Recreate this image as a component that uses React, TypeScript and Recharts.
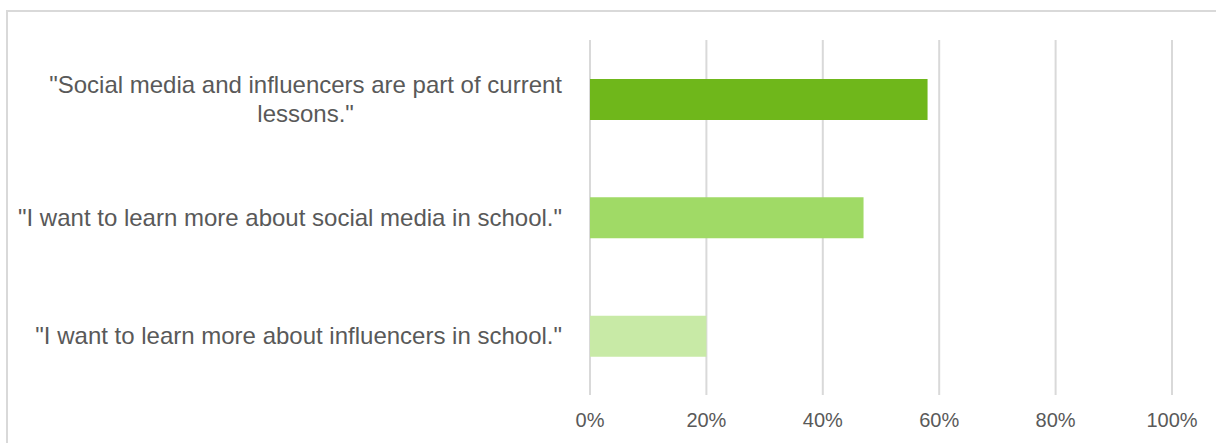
import { Bar, BarChart, CartesianGrid, Cell, XAxis, YAxis } from "recharts"

const categories = [
  '"Social media and influencers are part of current lessons."',
  '"I want to learn more about social media in school."',
  '"I want to learn more about influencers in school."',
]
const shares = [0.58, 0.47, 0.2]
const barColors = ["#6fb71b", "#a0da66", "#c8eaa6"]
const xTicks = [0, 0.2, 0.4, 0.6, 0.8, 1]

const data = categories.map((label, i) => ({ label, value: shares[i] }))

const LABEL_FONT = "24px 'Liberation Sans', Arial, sans-serif"
const TEXT_COLOR = "#595959"
const GRID_COLOR = "#d9d9d9"

let ctx: CanvasRenderingContext2D | null = null
function measure(text: string) {
  if (!ctx) ctx = document.createElement("canvas").getContext("2d")
  if (!ctx) return text.length * 11
  ctx.font = LABEL_FONT
  return ctx.measureText(text).width
}

function wrap(text: string, maxWidth: number) {
  const words = text.split(" ")
  const lines: string[] = []
  let cur = ""
  for (const w of words) {
    const next = cur ? cur + " " + w : w
    if (cur && measure(next) > maxWidth) {
      lines.push(cur)
      cur = w
    } else {
      cur = next
    }
  }
  if (cur) lines.push(cur)
  return lines
}

function CategoryTick(props: any) {
  const { x, y, payload } = props
  const lines = wrap(String(payload.value), 560)
  const right = x - 28
  const lineHeight = 29
  const startY = y - ((lines.length - 1) * lineHeight) / 2
  if (lines.length === 1) {
    return (
      <text x={right} y={y} dy={8} textAnchor="end" fill={TEXT_COLOR}
        style={{ font: LABEL_FONT }}>
        {lines[0]}
      </text>
    )
  }
  const blockWidth = Math.max(...lines.map(measure))
  const cx = right - blockWidth / 2
  return (
    <text textAnchor="middle" fill={TEXT_COLOR} style={{ font: LABEL_FONT }}>
      {lines.map((l, i) => (
        <tspan key={i} x={cx} y={startY + i * lineHeight} dy={8}>
          {l}
        </tspan>
      ))}
    </text>
  )
}

export default function App() {
  return (
    <div style={{ position: "absolute", left: 0, top: 0, width: 1216, height: 443, overflow: "hidden", background: "#fff" }}>
      <div style={{ position: "absolute", left: 6, top: 10, width: 1300, height: 500, border: `2px solid ${GRID_COLOR}` }} />
      <div style={{ position: "absolute", left: 0, top: 0 }}>
        <BarChart
          width={1216}
          height={443}
          data={data}
          layout="vertical"
          margin={{ top: 40, right: 44, bottom: 0, left: 0 }}
        >
          <CartesianGrid horizontal={false} stroke={GRID_COLOR} strokeWidth={2} />
          <XAxis
            type="number"
            domain={[0, 1]}
            ticks={xTicks}
            tickFormatter={(v) => `${Math.round(v * 100)}%`}
            axisLine={false}
            tickLine={false}
            tickMargin={12}
            height={48}
            interval={0}
            tick={{ fill: TEXT_COLOR, fontSize: 20, fontFamily: "'Liberation Sans', Arial, sans-serif" }}
          />
          <YAxis
            type="category"
            dataKey="label"
            width={590}
            axisLine={false}
            tickLine={false}
            tickSize={0}
            tickMargin={0}
            interval={0}
            tick={<CategoryTick />}
          />
          <Bar dataKey="value" barSize={41} isAnimationActive={false}>
            {data.map((_, i) => (
              <Cell key={i} fill={barColors[i]} />
            ))}
          </Bar>
        </BarChart>
      </div>
    </div>
  )
}
